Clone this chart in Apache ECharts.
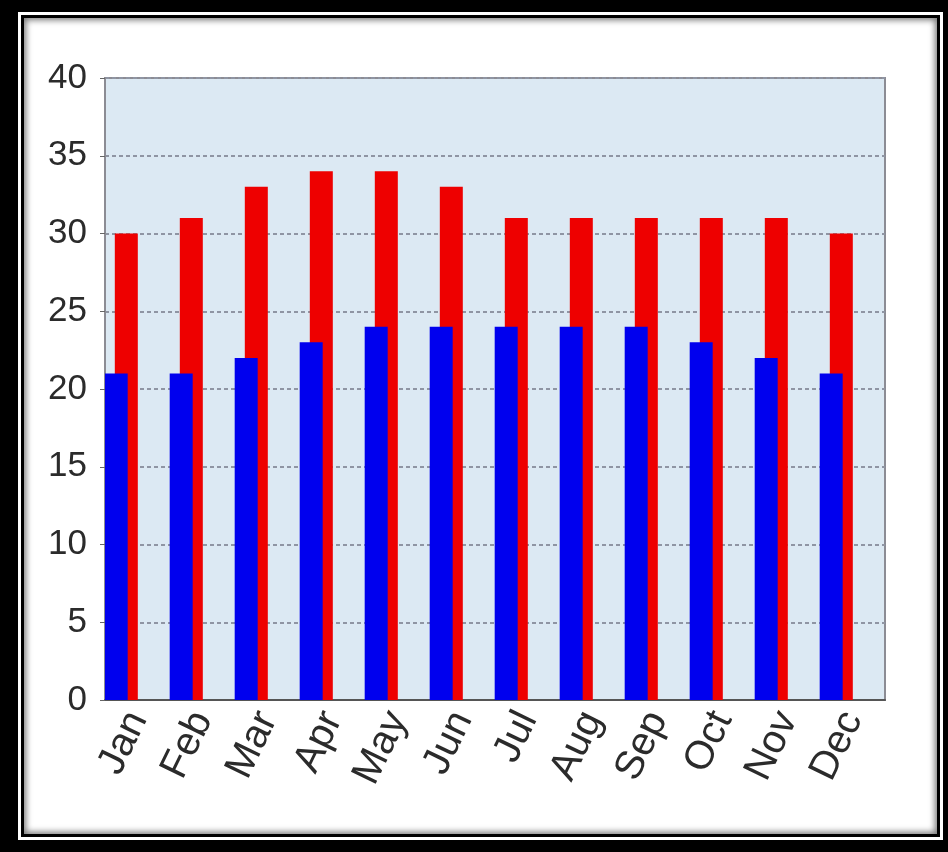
<!DOCTYPE html>
<html>
<head>
<meta charset="utf-8">
<title>Monthly temperatures</title>
<script src="https://cdn.jsdelivr.net/npm/echarts@6/dist/echarts.min.js"></script>
<style>
  body { margin: 0; background: #000; }
  #frame1 { position: absolute; left: 18px; top: 12px; width: 925px; height: 828px; background: #fff; }
  #frame2 { position: absolute; left: 21px; top: 15px; width: 913px; height: 816px; background: #fff;
            border: 3px solid #000; box-shadow: inset 0 0 6px 2px #777; }
  #chart { position: absolute; left: 0; top: 0; width: 948px; height: 852px; }
</style>
</head>
<body>
<div id="frame1"></div>
<div id="frame2"></div>
<div id="chart"></div>
<script type="text/javascript">
  // months and the two series (high = red, low = blue)
  var months = ['Jan', 'Feb', 'Mar', 'Apr', 'May', 'Jun', 'Jul', 'Aug', 'Sep', 'Oct', 'Nov', 'Dec'];
  var highs = [30, 31, 33, 34, 34, 33, 31, 31, 31, 31, 31, 30];
  var lows = [21, 21, 22, 23, 24, 24, 24, 24, 24, 23, 22, 21];
  var yTicks = [0, 5, 10, 15, 20, 25, 30, 35, 40];

  // bars sit in the left half of each month, so they go on a hidden axis
  // with two slots per month and the right slot left empty
  function halfSlots(arr) {
    var out = [];
    for (var i = 0; i < arr.length; i++) { out.push(arr[i]); out.push(null); }
    return out;
  }
  var slotNames = halfSlots(months).map(function (m, i) { return m === null ? '_' + i : m; });

  var labelFont = '"Liberation Sans", Arial, sans-serif';

  var myChart = echarts.init(document.getElementById('chart'));
  var option = {
    animation: false,
    backgroundColor: 'transparent',
    grid: {
      left: 105, right: 63, top: 78, bottom: 152,
      show: true,
      backgroundColor: '#dce9f3',
      borderColor: '#8c8c94',
      borderWidth: 2
    },
    xAxis: [
      {
        type: 'category',
        data: months,
        axisLine: { lineStyle: { color: '#555', width: 2 } },
        axisTick: { show: false },
        axisLabel: {
          rotate: 64,
          margin: 14,
          fontFamily: labelFont,
          fontSize: 40,
          color: '#2b2b2b'
        }
      },
      {
        type: 'category',
        data: slotNames,
        show: false
      }
    ],
    yAxis: {
      type: 'value',
      min: yTicks[0],
      max: yTicks[yTicks.length - 1],
      interval: 5,
      axisLine: { show: true, lineStyle: { color: '#8c8c94', width: 2 } },
      axisTick: { show: true, length: 5, lineStyle: { color: '#666' } },
      axisLabel: {
        margin: 18,
        fontFamily: labelFont,
        fontSize: 35,
        color: '#2b2b2b'
      },
      splitLine: { lineStyle: { color: '#8f95a3', width: 2, type: [4, 3] } }
    },
    series: [
      {
        name: 'Low',
        type: 'bar',
        xAxisIndex: 1,
        data: halfSlots(lows),
        barWidth: 23,
        barGap: '-56%',
        z: 3,
        itemStyle: { color: '#0000ee' }
      },
      {
        name: 'High',
        type: 'bar',
        xAxisIndex: 1,
        data: halfSlots(highs),
        barWidth: 23,
        z: 2,
        itemStyle: { color: '#ee0000' }
      }
    ]
  };
  myChart.setOption(option);
</script>
</body>
</html>
